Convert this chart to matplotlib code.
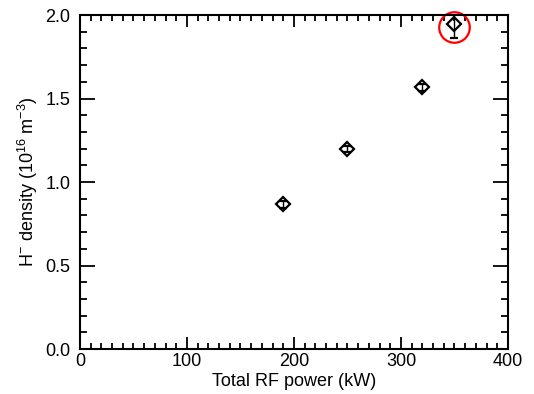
import matplotlib.pyplot as plt
from matplotlib.ticker import MultipleLocator

plt.rcParams["font.family"] = ["Liberation Sans", "DejaVu Sans"]
plt.rcParams["mathtext.fontset"] = "custom"
plt.rcParams["mathtext.rm"] = "Liberation Sans"
plt.rcParams["mathtext.it"] = "Liberation Sans"
plt.rcParams["mathtext.default"] = "regular"

power = [190, 250, 320, 350]
density = [0.866, 1.198, 1.566, 1.944]
err = [0.02, 0.02, 0.02, 0.08]

fig = plt.figure(figsize=(5.34, 3.94), dpi=100)
ax = fig.add_axes([0.1498, 0.1142, 0.8015, 0.8477])

ax.errorbar(power, density, yerr=err, fmt="D", ms=7.5, mfc="none", mec="black",
            mew=1.6, ecolor="black", elinewidth=1, capsize=3, capthick=1)

# highlight the last point
ax.plot(power[-1], 1.93, "o", ms=22, mfc="none", mec="red", mew=1.6, clip_on=False)

ax.set_xlim(0, 400)
ax.set_ylim(0, 2.0)
ax.xaxis.set_major_locator(MultipleLocator(100))
ax.xaxis.set_minor_locator(MultipleLocator(10))
ax.yaxis.set_major_locator(MultipleLocator(0.5))
ax.yaxis.set_minor_locator(MultipleLocator(0.1))
ax.yaxis.set_major_formatter(plt.FormatStrFormatter("%.1f"))

ax.tick_params(axis="both", which="both", direction="in", top=True, right=True,
               labelsize=13, width=1.3)
ax.tick_params(axis="x", which="major", length=8.5, pad=3)
ax.tick_params(axis="x", which="minor", length=4.3)
ax.tick_params(axis="y", which="major", length=11, pad=7)
ax.tick_params(axis="y", which="minor", length=5)
for s in ax.spines.values():
    s.set_linewidth(1.5)

ax.set_xlabel("Total RF power (kW)", fontsize=13, labelpad=2)
ax.set_ylabel("H$^{-}$ density (10$^{16}$ m$^{-3}$)", fontsize=13, labelpad=4)

fig.savefig("out.png", dpi=100)
